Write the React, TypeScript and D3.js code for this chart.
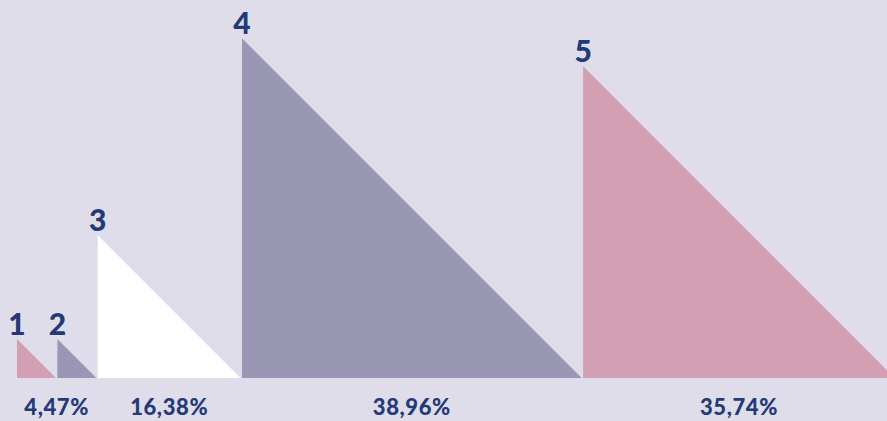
import React from "react";
import * as d3 from "d3";

const categories = ["1", "2", "3", "4", "5"];
const values = [4.47, 4.47, 16.38, 38.96, 35.74];
const colors = ["#d39fb3", "#9a97b4", "#ffffff", "#9a97b4", "#d39fb3"];
// which triangles share a percentage label
const labelGroups = [[0, 1], [2], [3], [4]];

const W = 887;
const H = 421;
const left = 17;
const baseY = 378;
const gap = 1.4;

export default function App() {
  const size = d3.scaleLinear().domain([0, 100]).range([0, 872]);
  const starts: number[] = [];
  let acc = left;
  values.forEach((v) => {
    starts.push(acc);
    acc += size(v) + gap;
  });
  const fmt = (v: number) => d3.format(".2f")(v).replace(".", ",") + "%";
  const font = "Lato, 'Open Sans', sans-serif";
  const navy = "#243a78";

  return (
    <div style={{ position: "fixed", left: 0, top: 0, width: W, height: H }}>
      <svg width={W} height={H} style={{ display: "block" }}>
        <rect x={0} y={0} width={W} height={H} fill="#dfdde9" />
        {values.map((v, i) => {
          const x0 = starts[i];
          const s = size(v);
          const path = d3.path();
          path.moveTo(x0, baseY);
          path.lineTo(x0, baseY - s);
          path.lineTo(x0 + s, baseY);
          path.closePath();
          return <path key={"t" + i} d={path.toString()} fill={colors[i]} />;
        })}
        {values.map((v, i) => (
          <text
            key={"n" + i}
            x={starts[i]}
            y={baseY - size(v) - 4}
            textAnchor="middle"
            fontFamily={font}
            fontWeight={900}
            fontSize={30}
            fill={navy}
          >
            {categories[i]}
          </text>
        ))}
        {labelGroups.map((g, j) => {
          const a = starts[g[0]];
          const last = g[g.length - 1];
          const b = starts[last] + size(values[last]);
          return (
            <text
              key={"l" + j}
              x={(a + b) / 2}
              y={415}
              textAnchor="middle"
              fontFamily={font}
              fontWeight={900}
              fontSize={22}
              letterSpacing={0.6}
              fill={navy}
            >
              {fmt(values[g[0]])}
            </text>
          );
        })}
      </svg>
    </div>
  );
}
